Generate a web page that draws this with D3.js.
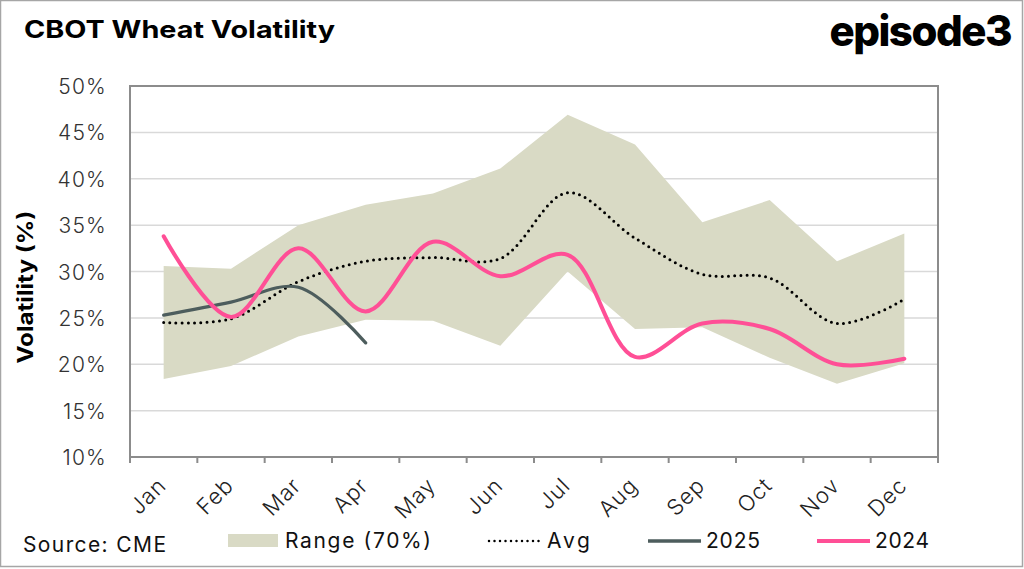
<!DOCTYPE html>
<html><head><meta charset="utf-8">
<script src="https://cdn.jsdelivr.net/npm/d3@7"></script>
<style>body{margin:0;background:#fff}svg{display:block}</style>
</head><body>
<svg id="c" width="1024" height="569"></svg>
<script>
const months = ["Jan","Feb","Mar","Apr","May","Jun","Jul","Aug","Sep","Oct","Nov","Dec"];
const rangeHigh = [30.6,30.3,35.0,37.2,38.4,41.1,46.9,43.7,35.3,37.7,31.1,34.1];
const rangeLow  = [18.4,19.8,23.0,24.8,24.7,22.0,30.0,23.8,24.0,20.7,17.9,20.1];
const avg       = [24.5,24.9,28.9,31.1,31.5,31.4,38.5,33.6,29.7,29.3,24.4,27.0];
const y2025     = [25.3,26.7,28.3,22.3];
const y2024     = [33.8,25.1,32.5,25.7,33.2,29.5,31.8,20.8,24.4,23.8,20.0,20.6];
const yTicks    = [10,15,20,25,30,35,40,45,50];

const svg = d3.select("#c");
const L = 130, R = 938, T = 86, B = 457;
const x = d3.scaleBand().domain(months).range([L, R]);
const cx = m => x(m) + x.bandwidth()/2;
const y = d3.scaleLinear().domain([10,50]).range([B, T]);
const font = "Inter, 'Open Sans', sans-serif";

// outer frame
svg.append("rect").attr("x",0.5).attr("y",0.5).attr("width",1022).attr("height",566)
  .attr("fill","#fff").attr("stroke","#a6a6a6").attr("stroke-width",1.5);

// title & logo
svg.append("text").attr("x",24).attr("y",38).attr("font-family",font).attr("font-weight",700)
  .attr("font-size",24).attr("fill","#000").attr("textLength",311).attr("lengthAdjust","spacingAndGlyphs")
  .text("CBOT Wheat Volatility");
svg.append("text").attr("x",1011).attr("y",46).attr("text-anchor","end").attr("font-family",font).attr("font-weight",800)
  .attr("font-size",42).attr("letter-spacing",-1.5).attr("fill","#000")
  .text("episode3");

// gridlines
svg.append("g").selectAll("line").data(yTicks.filter(t=>t>10 && t<50)).join("line")
  .attr("x1",L).attr("x2",R).attr("y1",d=>y(d)).attr("y2",d=>y(d))
  .attr("stroke","#d9d9d9").attr("stroke-width",1.5);

// range area
const area = d3.area().x((d,i)=>cx(months[i])).y0((d,i)=>y(rangeLow[i])).y1(d=>y(d));
svg.append("path").datum(rangeHigh).attr("d",area).attr("fill","#d9dac5");

const line = d3.line().x((d,i)=>cx(months[i])).y(d=>y(d)).curve(d3.curveCatmullRom.alpha(0.5));
svg.append("path").datum(avg).attr("d",line).attr("fill","none").attr("stroke","#000")
  .attr("stroke-width",3).attr("stroke-linecap","round").attr("stroke-dasharray","0 6.2");
svg.append("path").datum(y2025).attr("d",line).attr("fill","none").attr("stroke","#4d5d5d")
  .attr("stroke-width",3.2).attr("stroke-linecap","round");
svg.append("path").datum(y2024).attr("d",line).attr("fill","none").attr("stroke","#ff4f96")
  .attr("stroke-width",4).attr("stroke-linecap","round");

// plot border
svg.append("rect").attr("x",L).attr("y",T).attr("width",R-L).attr("height",B-T)
  .attr("fill","none").attr("stroke","#8c8c8c").attr("stroke-width",2);
// bottom ticks at category boundaries
const bounds = months.map(m=>x(m)).concat([R]);
svg.append("g").selectAll("line").data(bounds).join("line")
  .attr("x1",d=>d).attr("x2",d=>d).attr("y1",B).attr("y2",B+6)
  .attr("stroke","#8c8c8c").attr("stroke-width",2);

// y axis labels
const yAxis = svg.append("g").attr("transform",`translate(${L},0)`)
  .call(d3.axisLeft(y).tickValues(yTicks).tickSize(0).tickPadding(23).tickFormat(d=>d+"%"));
yAxis.select(".domain").remove();
yAxis.selectAll("text").attr("font-family",font).attr("font-size",21).attr("fill","#333")
  .attr("font-weight",300).attr("letter-spacing",1.2).attr("dy","0.36em");

// x axis labels
const xAxis = svg.append("g").attr("transform",`translate(0,${B})`)
  .call(d3.axisBottom(x).tickSize(0).tickFormat(d=>d));
xAxis.select(".domain").remove();
xAxis.selectAll("text").attr("font-family",font).attr("font-size",22).attr("fill","#222")
  .attr("font-weight",300).attr("letter-spacing",1).attr("text-anchor","end").attr("dy",null).attr("y",null)
  .attr("transform","translate(4,30) rotate(-45)");

// y title
svg.append("text").attr("transform","translate(33,287) rotate(-90)").attr("text-anchor","middle")
  .attr("font-family",font).attr("font-weight",700).attr("font-size",21).attr("fill","#000")
  .attr("textLength",153).attr("lengthAdjust","spacingAndGlyphs")
  .text("Volatility (%)");

// legend
const lg = svg.append("g").attr("font-family",font).attr("font-size",21).attr("fill","#111").attr("font-weight",400);
lg.append("text").attr("x",23).attr("y",552).attr("textLength",143).text("Source: CME");
lg.append("rect").attr("x",228).attr("y",534).attr("width",50).attr("height",13).attr("fill","#d9dac5");
lg.append("text").attr("x",285).attr("y",548).attr("textLength",146).text("Range (70%)");
lg.append("line").attr("x1",489).attr("x2",540).attr("y1",541).attr("y2",541).attr("stroke","#000")
  .attr("stroke-width",2.5).attr("stroke-linecap","round").attr("stroke-dasharray","0 5.5");
lg.append("text").attr("x",547).attr("y",548).attr("textLength",43).text("Avg");
lg.append("line").attr("x1",648).attr("x2",701).attr("y1",541).attr("y2",541).attr("stroke","#4d5d5d").attr("stroke-width",3.5);
lg.append("text").attr("x",706).attr("y",548).attr("textLength",54).text("2025");
lg.append("line").attr("x1",817).attr("x2",870).attr("y1",541).attr("y2",541).attr("stroke","#ff4f96").attr("stroke-width",4);
lg.append("text").attr("x",875).attr("y",548).attr("textLength",54).text("2024");
</script>
</body></html>
